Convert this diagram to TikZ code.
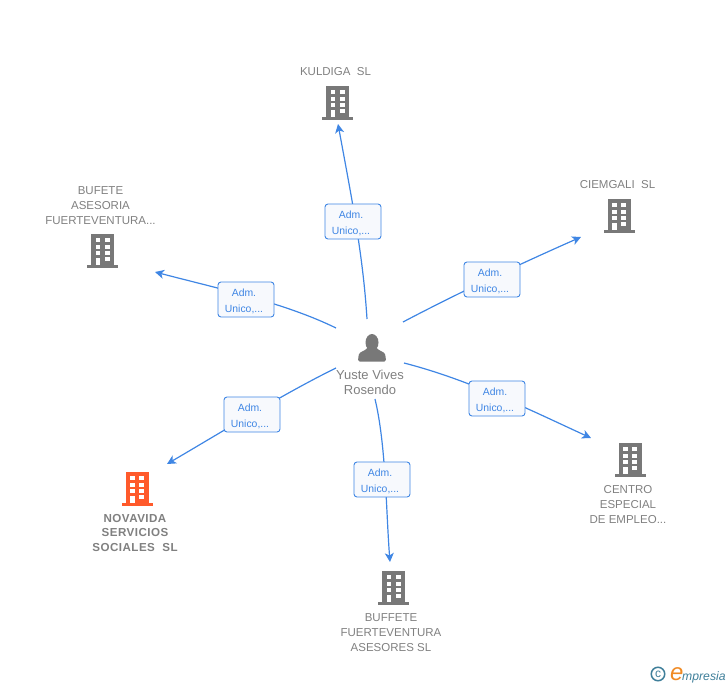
\documentclass[tikz,border=0pt]{standalone}
\usepackage{fontspec}
\setmainfont{Liberation Sans}
\newfontfamily\spacedbold[LetterSpace=4]{Liberation Sans}
\usetikzlibrary{arrows.meta}
\definecolor{linkblue}{HTML}{3F86E4}
\definecolor{boxfill}{HTML}{F7F9FD}
\definecolor{icongray}{HTML}{787878}
\definecolor{textgray}{HTML}{808080}
\definecolor{iconorange}{HTML}{FF5A2B}
\definecolor{logoteal}{HTML}{3F7F9A}
\definecolor{logoorange}{HTML}{F08A24}
\tikzset{
  x=1pt,y=-1pt,
  conn/.style={draw=linkblue,line width=1.2pt,-{Stealth[length=9pt,width=9pt,inset=2.5pt]}},
  relbox/.style={draw=linkblue,line width=0.9pt,fill=boxfill,rounded corners=3pt,minimum width=56pt,minimum height=35pt,inner sep=0pt},
  reltext/.style={inner sep=0pt,align=center,text=linkblue,font=\fontsize{10.4}{15.5}\selectfont},
  company/.style={inner sep=0pt,align=center,text=textgray,font=\fontsize{11.5}{15}\selectfont},
  companybold/.style={inner sep=0pt,align=center,text=textgray,font=\fontsize{11.6}{14.5}\spacedbold\bfseries\selectfont},
  person/.style={inner sep=0pt,align=center,text=textgray,font=\fontsize{13}{15}\selectfont},
  bldg/.pic={
    \fill[pic actions] (-11.5,-17) rectangle (11.5,14);
    \fill[pic actions] (-15.5,14) rectangle (15.5,17);
    \foreach \yy in {-13,-6.3,0}{
      \fill[white] (-7,\yy) rectangle (-2.3,\yy+4.3);
      \fill[white] (2.3,\yy) rectangle (7,\yy+4.3);
    }
    \fill[white] (-7,7) rectangle (-2.3,14);
    \fill[white] (2.3,6) rectangle (7,10.3);
  }
}
\begin{document}
\begin{tikzpicture}
\useasboundingbox (0,0) rectangle (728,685);
% coordinates of connector ends
\coordinate (s1) at (367,319); \coordinate (e1) at (338,124);
\coordinate (s2) at (403,322); \coordinate (e2) at (581,237);
\coordinate (s3) at (336,328); \coordinate (e3) at (155,272);
\coordinate (s4) at (336,368); \coordinate (e4) at (167,464);
\coordinate (s5) at (404,363); \coordinate (e5) at (591,438);
\coordinate (s6) at (375,399); \coordinate (e6) at (390,562);
% connectors
\draw[conn] (s1) .. controls (363,255) and (352,200) .. (e1);
\draw[conn] (s2) .. controls (460,292) and (520,264) .. (e2);
\draw[conn] (s3) .. controls (285,303) and (220,289) .. (e3);
\draw[conn] (s4) .. controls (285,393) and (225,430) .. (e4);
\draw[conn] (s5) .. controls (470,380) and (530,410) .. (e5);
\draw[conn] (s6) .. controls (386,445) and (386,510) .. (e6);
% relation boxes
\node[relbox] (r1) at (353,221.5) {}; \node[reltext] at (351,223.5) {Adm.\\Unico,...};
\node[relbox] (r2) at (492,279.5) {}; \node[reltext] at (490,281.5) {Adm.\\Unico,...};
\node[relbox] (r3) at (246,299.5) {}; \node[reltext] at (244,301.5) {Adm.\\Unico,...};
\node[relbox] (r4) at (252,414.5) {}; \node[reltext] at (250,416.5) {Adm.\\Unico,...};
\node[relbox] (r5) at (497,398.5) {}; \node[reltext] at (495,400.5) {Adm.\\Unico,...};
\node[relbox] (r6) at (382,479.5) {}; \node[reltext] at (380,481.5) {Adm.\\Unico,...};
% buildings
\pic[icongray] at (337.5,103) {bldg};
\pic[icongray] at (619,216) {bldg};
\pic[icongray] at (102.5,251) {bldg};
\pic[iconorange] at (137,489) {bldg};
\pic[icongray] at (630,460) {bldg};
\pic[icongray] at (393.5,588) {bldg};
% company names
\node[company] (n1) at (335.5,72) {KULDIGA\ \ SL};
\node[company] (n2) at (617.5,185) {CIEMGALI\ \ SL};
\node[company] (n3) at (100.5,205.5) {BUFETE\\ASESORIA\\FUERTEVENTURA...};
\node[companybold] (n4) at (135,533) {NOVAVIDA\\SERVICIOS\\SOCIALES\ \ SL};
\node[company] (n5) at (628,505) {CENTRO\\ESPECIAL\\DE EMPLEO...};
\node[company] (n6) at (391,632.5) {BUFFETE\\FUERTEVENTURA\\ASESORES SL};
% person
\fill[icongray] (372,342.5) ellipse (6.5pt and 8.5pt);
\fill[icongray,rounded corners=1.5pt] (358,361.5) -- (358.5,355.5) .. controls (360,351.5) and (365,351) .. (368,347) -- (376,347) .. controls (379,351) and (384,351.5) .. (385.5,355.5) -- (386,361.5) -- cycle;
\node[person] (p) at (370,382.5) {Yuste Vives\\Rosendo};
% logo
\node[circle,draw=logoteal,line width=1.5pt,minimum size=13.5pt,inner sep=0pt,text=logoteal,font=\fontsize{12}{12}\selectfont] (c) at (658,674) {c};
\node[inner sep=0pt,anchor=base west,text=logoorange,font=\fontsize{24}{24}\selectfont\itshape] (lg) at (670,680) {e};
\node[inner sep=0pt,anchor=base west,text=logoteal,font=\fontsize{12.2}{12}\selectfont\itshape] (lh) at (682,680) {mpresia};
\end{tikzpicture}
\end{document}
